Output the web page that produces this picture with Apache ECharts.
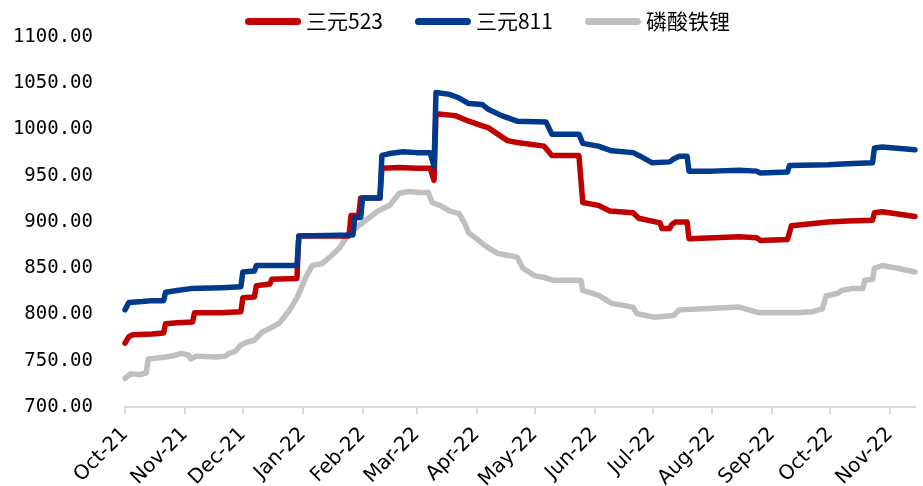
<!DOCTYPE html>
<html>
<head>
<meta charset="utf-8">
<script src="https://cdn.jsdelivr.net/npm/echarts@6/dist/echarts.min.js"></script>
<style>
  html, body { margin: 0; padding: 0; background: #fff; }
  #chart { width: 923px; height: 486px; }
</style>
</head>
<body>
<div id="chart"></div>
<script>
// Series names (legend order)
const seriesNames = ['三元523', '三元811', '磷酸铁锂'];

// Y axis range and step
const yMin = 700, yMax = 1100, yStep = 50;

// Date range of the x axis
const xStart = '2021-10-01', xEnd = '2022-11-14';

const monthAbbr = ['Jan', 'Feb', 'Mar', 'Apr', 'May', 'Jun', 'Jul', 'Aug', 'Sep', 'Oct', 'Nov', 'Dec'];

// 三元523 price points [date, value]
const ncm523 = [
  ['2021-10-01', 769], ['2021-10-03', 776], ['2021-10-05', 778], ['2021-10-15', 779],
  ['2021-10-21', 780], ['2021-10-22', 790], ['2021-10-28', 791], ['2021-11-05', 792],
  ['2021-11-06', 802], ['2021-11-20', 802], ['2021-11-30', 803], ['2021-12-01', 818],
  ['2021-12-07', 819], ['2021-12-08', 831], ['2021-12-15', 833], ['2021-12-16', 838],
  ['2021-12-29', 839], ['2021-12-30', 885], ['2022-01-25', 885], ['2022-01-26', 907],
  ['2022-01-30', 907], ['2022-01-31', 926], ['2022-02-10', 926], ['2022-02-11', 958],
  ['2022-02-20', 959], ['2022-03-01', 958], ['2022-03-08', 958], ['2022-03-10', 945],
  ['2022-03-11', 1017], ['2022-03-21', 1015], ['2022-03-28', 1009], ['2022-04-04', 1004],
  ['2022-04-07', 1002], ['2022-04-12', 995], ['2022-04-17', 988], ['2022-04-22', 986],
  ['2022-05-06', 982], ['2022-05-10', 972], ['2022-05-24', 972], ['2022-05-26', 921],
  ['2022-06-03', 918], ['2022-06-09', 912], ['2022-06-21', 910], ['2022-06-24', 904],
  ['2022-07-05', 899], ['2022-07-06', 893], ['2022-07-10', 893], ['2022-07-11', 897],
  ['2022-07-13', 900], ['2022-07-19', 900], ['2022-07-20', 882], ['2022-08-15', 884],
  ['2022-08-24', 883], ['2022-08-26', 880], ['2022-09-09', 881], ['2022-09-11', 896],
  ['2022-09-30', 900], ['2022-10-10', 901], ['2022-10-23', 902], ['2022-10-24', 910],
  ['2022-10-28', 911], ['2022-11-14', 906]
];

// 三元811 price points [date, value]
const ncm811 = [
  ['2021-10-01', 805], ['2021-10-03', 813], ['2021-10-10', 814], ['2021-10-15', 815],
  ['2021-10-21', 815], ['2021-10-22', 824], ['2021-10-28', 826], ['2021-11-04', 828],
  ['2021-11-20', 829], ['2021-11-30', 830], ['2021-12-01', 846], ['2021-12-07', 847],
  ['2021-12-08', 853], ['2021-12-29', 853], ['2021-12-30', 885], ['2022-01-27', 886],
  ['2022-01-28', 905], ['2022-01-31', 905], ['2022-02-01', 926], ['2022-02-10', 926],
  ['2022-02-11', 972], ['2022-02-15', 974], ['2022-02-22', 976], ['2022-03-01', 975],
  ['2022-03-08', 975], ['2022-03-10', 960], ['2022-03-11', 1040], ['2022-03-18', 1038],
  ['2022-03-23', 1034], ['2022-03-28', 1028], ['2022-04-04', 1027], ['2022-04-07', 1022],
  ['2022-04-14', 1015], ['2022-04-18', 1012], ['2022-04-22', 1009], ['2022-05-07', 1008],
  ['2022-05-10', 995], ['2022-05-24', 995], ['2022-05-26', 985], ['2022-06-03', 982],
  ['2022-06-10', 977], ['2022-06-21', 975], ['2022-06-24', 972], ['2022-07-01', 964],
  ['2022-07-10', 965], ['2022-07-12', 968], ['2022-07-15', 971], ['2022-07-19', 971],
  ['2022-07-20', 955], ['2022-08-01', 955], ['2022-08-15', 956], ['2022-08-24', 955],
  ['2022-08-26', 953], ['2022-09-09', 954], ['2022-09-10', 961], ['2022-09-30', 962],
  ['2022-10-10', 963], ['2022-10-23', 964], ['2022-10-24', 980], ['2022-10-28', 981],
  ['2022-11-14', 978]
];

// 磷酸铁锂 price points [date, value]
const lfp = [
  ['2021-10-01', 731], ['2021-10-04', 736], ['2021-10-09', 735], ['2021-10-12', 737],
  ['2021-10-13', 752], ['2021-10-22', 754], ['2021-10-27', 756], ['2021-10-30', 758],
  ['2021-11-03', 756], ['2021-11-04', 752], ['2021-11-07', 755], ['2021-11-17', 754],
  ['2021-11-22', 755], ['2021-11-24', 758], ['2021-11-27', 760], ['2021-11-30', 767],
  ['2021-12-03', 770], ['2021-12-07', 772], ['2021-12-11', 781], ['2021-12-15', 785],
  ['2021-12-20', 791], ['2021-12-25', 804], ['2021-12-29', 818], ['2022-01-03', 842],
  ['2022-01-06', 853], ['2022-01-11', 855], ['2022-01-15', 862], ['2022-01-20', 872],
  ['2022-01-25', 888], ['2022-01-30', 896], ['2022-02-04', 904], ['2022-02-09', 912],
  ['2022-02-15', 918], ['2022-02-20', 931], ['2022-02-25', 933], ['2022-03-03', 932],
  ['2022-03-07', 932], ['2022-03-09', 921], ['2022-03-13', 918], ['2022-03-18', 912],
  ['2022-03-23', 909], ['2022-03-26', 898], ['2022-03-28', 888], ['2022-04-01', 882],
  ['2022-04-05', 875], ['2022-04-08', 871], ['2022-04-12', 866], ['2022-04-17', 864],
  ['2022-04-22', 862], ['2022-04-25', 850], ['2022-05-01', 842], ['2022-05-06', 840],
  ['2022-05-11', 837], ['2022-05-25', 837], ['2022-05-26', 826], ['2022-06-03', 821],
  ['2022-06-10', 812], ['2022-06-21', 808], ['2022-06-23', 801], ['2022-07-02', 797],
  ['2022-07-12', 799], ['2022-07-15', 805], ['2022-07-25', 806], ['2022-08-15', 808],
  ['2022-08-25', 802], ['2022-09-14', 802], ['2022-09-22', 803], ['2022-09-27', 806],
  ['2022-09-29', 820], ['2022-10-05', 823], ['2022-10-07', 826], ['2022-10-12', 828],
  ['2022-10-18', 828], ['2022-10-19', 837], ['2022-10-23', 838], ['2022-10-24', 850],
  ['2022-10-28', 853], ['2022-11-05', 850], ['2022-11-14', 846]
];

const colors = ['#C00000', '#003A8C', '#BFBFBF'];
const DAY = 24 * 3600 * 1000;

const chart = echarts.init(document.getElementById('chart'), null, { renderer: 'canvas' });

const lineSeries = (name, data, color, z) => ({
  name: name,
  type: 'line',
  data: data,
  showSymbol: false,
  symbol: 'none',
  z: z,
  lineStyle: { color: color, width: 5.5, cap: 'round', join: 'round' },
  itemStyle: { color: color },
  emphasis: { disabled: true }
});

chart.setOption({
  animation: false,
  backgroundColor: '#ffffff',
  color: colors,
  grid: { left: 125, right: 8, top: 37, bottom: 79, containLabel: false, outerBoundsMode: 'none' },
  legend: {
    data: seriesNames,
    top: 6,
    left: 240,
    itemWidth: 56,
    itemHeight: 7,
    itemGap: 32,
    icon: 'path://M3.5,0 H52.5 A3.5,3.5 0 0 1 52.5,7 H3.5 A3.5,3.5 0 0 1 3.5,0 Z',
    textStyle: { fontSize: 21, color: '#000', fontFamily: 'Noto Sans CJK SC' }
  },
  xAxis: {
    type: 'time',
    min: xStart,
    max: xEnd,
    minInterval: 28 * DAY,
    maxInterval: 31 * DAY,
    axisLine: { show: true, lineStyle: { color: '#D9D9D9', width: 2 } },
    axisTick: { show: true, length: 7, lineStyle: { color: '#D9D9D9', width: 2 } },
    splitLine: { show: false },
    axisLabel: {
      rotate: 45,
      margin: 24,
      color: '#000',
      fontSize: 20,
      fontFamily: 'DejaVu Sans',
      showMinLabel: true,
      showMaxLabel: false,
      formatter: function (v) {
        const d = new Date(v);
        return monthAbbr[d.getMonth()] + '-' + String(d.getFullYear()).slice(2);
      }
    }
  },
  yAxis: {
    type: 'value',
    min: yMin,
    max: yMax,
    interval: yStep,
    axisLine: { show: false },
    axisTick: { show: false },
    splitLine: { show: false },
    axisLabel: {
      margin: 32,
      color: '#000',
      fontSize: 19,
      fontFamily: 'DejaVu Sans Mono',
      formatter: v => v.toFixed(2)
    }
  },
  series: [
    lineSeries(seriesNames[0], ncm523, colors[0], 3),
    lineSeries(seriesNames[1], ncm811, colors[1], 4),
    lineSeries(seriesNames[2], lfp, colors[2], 2)
  ]
});
</script>
</body>
</html>
